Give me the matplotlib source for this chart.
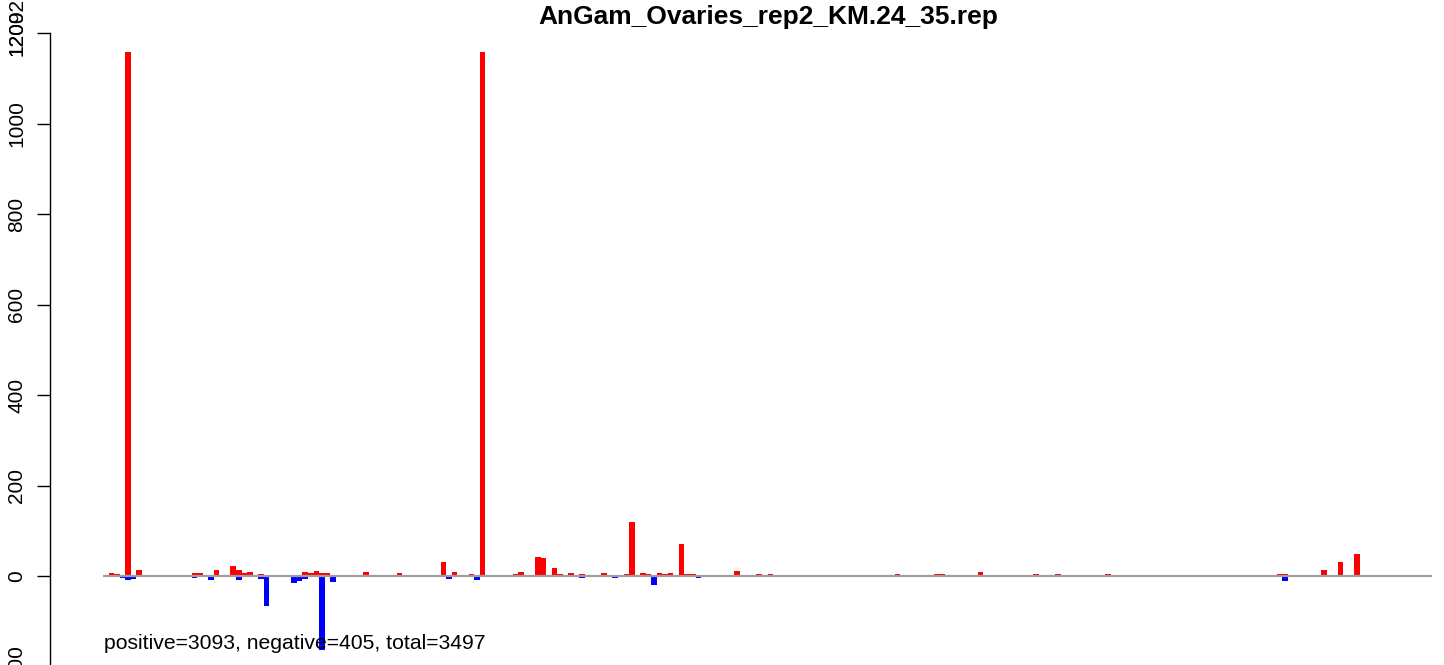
import matplotlib
matplotlib.use("Agg")
import matplotlib.pyplot as plt
import numpy as np

plt.rcParams['font.family'] = ['Liberation Sans', 'DejaVu Sans']

title = "AnGam_Ovaries_rep2_KM.24_35.rep"
n_bins = 240
pos_idx = [0, 1, 2, 4, 6, 9, 13, 15, 16, 17, 20, 23, 24, 25, 26, 28, 30, 32, 36, 37, 38, 39, 40, 41, 42,
           47, 51, 53, 56, 61, 63, 64, 66, 68, 71, 74, 75, 78, 79, 81, 82, 84, 85, 86, 87, 90, 92, 94, 95,
           97, 98, 100, 101, 102, 104, 105, 106, 107, 108, 109, 111, 113, 114, 115, 118, 120, 128, 143,
           150, 151, 153, 157, 158, 163, 168, 172, 173, 175, 181, 182, 183, 187, 189, 191, 192, 198, 207,
           208, 211, 212, 213, 216, 217, 220, 223, 224, 225, 226]
pos_val = [2, 7, 5, 1158, 13, 2, 2, 2, 7, 7, 13, 22, 13, 7, 9, 4, 2, 2, 9, 7, 11, 7, 7, 3, 2,
           9, 2, 7, 2, 31, 9, 2, 4, 1158, 2, 4, 9, 42, 40, 18, 4, 7, 2, 4, 2, 7, 2, 4, 120,
           7, 4, 7, 4, 7, 71, 4, 4, 2, 2, 2, 2, 2, 11, 2, 4, 4, 2, 4,
           4, 4, 2, 2, 9, 2, 4, 4, 1, 2, 4, 2, 2, 2, 2, 2, 2, 2, 2,
           2, 2, 4, 4, 2, 2, 13, 31, 2, 2, 49]
neg_idx = [3, 4, 5, 7, 9, 11, 16, 19, 22, 24, 28, 29, 34, 35, 36, 39, 41, 45, 46, 49, 55, 56, 62, 67,
           68, 73, 76, 86, 91, 92, 99, 102, 104, 107, 113, 121, 152, 165, 173, 192, 213, 219]
neg_val = [-4, -9, -6, -1, -2, -2, -4, -9, -1, -9, -6, -66, -15, -10, -7, -164, -13, -2, -2, -2, -2, -2, -6, -9,
           -1, -1, -2, -4, -2, -4, -19, -2, -1, -4, -2, -2, -2, -2, -2, -2, -10, -2]
y_ticks = [-200, 0, 200, 400, 600, 800, 1000, 1200]
extra_label = "12092"
summary = "positive=3093, negative=405, total=3497"

pos = np.zeros(n_bins)
neg = np.zeros(n_bins)
pos[pos_idx] = pos_val
neg[neg_idx] = neg_val
x = np.arange(n_bins) + 0.5

W, H = 1444, 665
fig = plt.figure(figsize=(W / 100, H / 100), dpi=100)
left_px, right_px = 50, 1485
top_px, bot_px = 33, 666.5
ax = fig.add_axes([left_px / W, (H - bot_px) / H, (right_px - left_px) / W, (bot_px - top_px) / H])
ax.patch.set_visible(False)

ax.bar(x, pos, width=1.0, color='#FF0000', linewidth=0)
ax.bar(x, neg, width=1.0, color='#0000FF', linewidth=0)
ax.hlines(0, 0, n_bins, color='#9E9E9E', lw=1.6, zorder=3)

ext = 0.04 * n_bins
ax.set_xlim(-ext, n_bins + ext)
ax.set_ylim(-200, 1200)
for s in ['top', 'right', 'bottom']:
    ax.spines[s].set_visible(False)
ax.spines['left'].set_bounds(-200, 1200)
ax.spines['left'].set_linewidth(1.0)
ax.set_xticks([])
ax.set_yticks(y_ticks)
ax.set_yticklabels([str(t) for t in y_ticks], rotation=90, va='center', fontsize=15)
ax.tick_params(axis='y', length=9.2, width=1.0, pad=8)

fig.text(768 / W, 1 - 17 / H, title, ha='center', va='center', fontsize=19, fontweight='bold')
fig.text(104 / W, 1 - 649 / H, summary, ha='left', va='baseline', fontsize=15.2)

fig.canvas.draw()
renderer = fig.canvas.get_renderer()
top_lab = ax.get_yticklabels()[-1]
bb = top_lab.get_window_extent(renderer)
fig.text((bb.x0 + bb.x1) / 2 / W, bb.y0 / H, extra_label, rotation=90, ha='center', va='bottom', fontsize=15)

fig.savefig("out.png", dpi=100)
